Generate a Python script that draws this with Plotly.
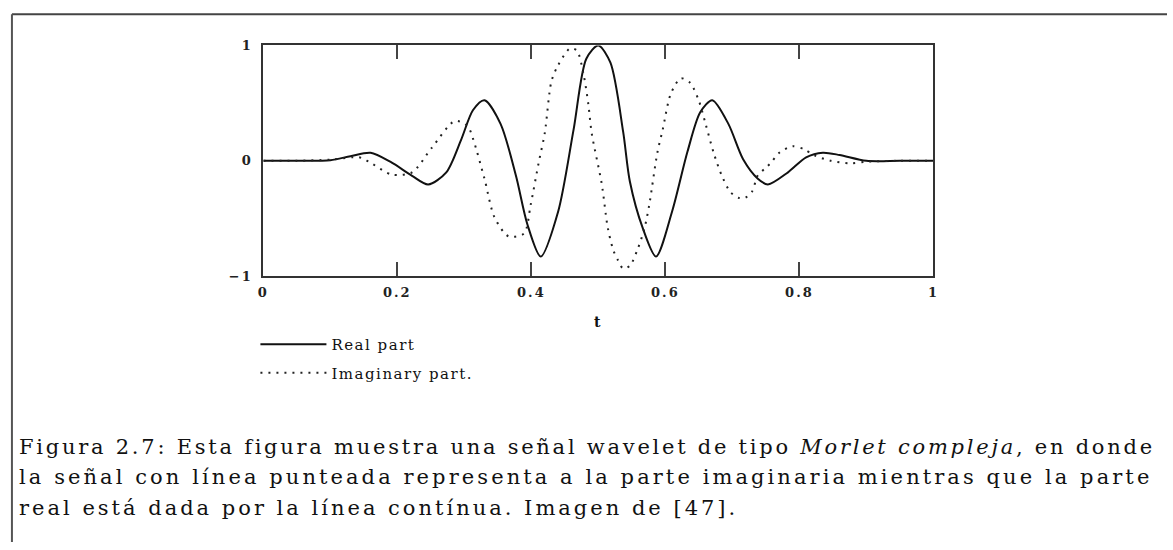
import plotly.graph_objects as go

# ---- data ----
t_real = [0.0, 0.05, 0.10, 0.13, 0.16, 0.19, 0.222, 0.246, 0.273, 0.295, 0.313, 0.33,
          0.354, 0.377, 0.394, 0.414, 0.44, 0.463, 0.482, 0.50, 0.518, 0.537, 0.547,
          0.566, 0.586, 0.61, 0.633, 0.652, 0.67, 0.694, 0.716, 0.738, 0.753, 0.783,
          0.81, 0.835, 0.86, 0.90, 0.95, 1.0]
y_real = [0.0, 0.0, 0.005, 0.04, 0.07, -0.01, -0.13, -0.205, -0.10, 0.18, 0.44, 0.525,
          0.32, -0.13, -0.55, -0.83, -0.44, 0.27, 0.885, 1.0, 0.85, 0.25, -0.18,
          -0.58, -0.83, -0.44, 0.08, 0.42, 0.525, 0.32, 0.014, -0.155, -0.205, -0.10,
          0.03, 0.07, 0.05, 0.0, 0.0, 0.0]

t_imag = [0.0, 0.05, 0.10, 0.143, 0.158, 0.192, 0.222, 0.251, 0.286, 0.305, 0.313, 0.33,
          0.345, 0.366, 0.389, 0.399, 0.411, 0.42, 0.43, 0.44, 0.458, 0.468, 0.478,
          0.485, 0.49, 0.505, 0.514, 0.522, 0.529, 0.537, 0.547, 0.559, 0.569, 0.576,
          0.588, 0.596, 0.608, 0.623, 0.637, 0.65, 0.66, 0.672, 0.684, 0.697, 0.709,
          0.719, 0.729, 0.738, 0.748, 0.758, 0.77, 0.79, 0.807, 0.822, 0.847, 0.876,
          0.90, 0.95, 1.0]
y_imag = [0.0, 0.0, 0.01, 0.03, -0.01, -0.12, -0.10, 0.11, 0.345, 0.30, 0.19, -0.155,
          -0.49, -0.655, -0.63, -0.38, -0.014, 0.24, 0.69, 0.83, 0.975, 0.955, 0.745,
          0.49, 0.24, -0.20, -0.58, -0.77, -0.86, -0.935, -0.91, -0.76, -0.58, -0.38,
          0.07, 0.27, 0.58, 0.715, 0.675, 0.52, 0.32, 0.07, -0.126, -0.27, -0.32,
          -0.32, -0.27, -0.126, -0.07, -0.014, 0.07, 0.126, 0.10, 0.048, 0.0, -0.022,
          -0.008, 0.0, 0.0]

x_ticks = [0, 0.2, 0.4, 0.6, 0.8, 1]
x_tick_labels = ["0", "0.2", "0.4", "0.6", "0.8", "1"]
y_ticks = [-1, 0, 1]
y_tick_labels = ["\u22121", "0", "1"]

caption_lines = [
    "Figura 2.7: Esta figura muestra una señal wavelet de tipo <i>Morlet compleja</i>, en donde",
    "la señal con línea punteada representa a la parte imaginaria mientras que la parte",
    "real está dada por la línea contínua. Imagen de [47].",
]
caption_spacing = [  # (letter-spacing px, word-spacing px) per line
    (2.75, 0.0),
    (3.08, 0.0),
    (3.0, 0.0),
]

W, H = 1173, 550
px = lambda v: v / W
py = lambda v: 1 - v / H


def spaced(s, ls, ws=0.0):
    return f'<span style="letter-spacing:{ls}px;word-spacing:{ws}px">{s}</span>'


fig = go.Figure()
fig.add_trace(go.Scatter(x=t_real, y=y_real, mode="lines", name=spaced("Real part", 1.5),
                         legendgroup="r",
                         line=dict(color="#111", width=2, shape="spline", smoothing=0.8)))
fig.add_trace(go.Scatter(x=t_imag, y=y_imag, mode="lines",
                         name=spaced("Imaginary part.", 1.5), legendgroup="i",
                         line=dict(color="#222", width=2, dash="2px,6px", shape="spline",
                                   smoothing=0.8)))

tickfont = dict(family="DejaVu Serif", size=13, color="#222", weight="bold")
fig.update_layout(
    width=W, height=H, margin=dict(l=0, r=0, t=0, b=0),
    paper_bgcolor="white", plot_bgcolor="white",
    xaxis=dict(domain=[px(260), px(937)], range=[0, 1], tickvals=x_ticks,
               ticktext=[spaced(s, 2) for s in x_tick_labels], ticks="inside",
               ticklen=14, tickwidth=2,
               tickcolor="#444", showline=True, linecolor="#333", linewidth=2,
               mirror="ticks", showgrid=False, zeroline=False, tickfont=tickfont,
               ticklabelstandoff=3),
    yaxis=dict(domain=[py(276.7), py(39.5)], range=[-1, 1], tickvals=y_ticks,
               ticktext=[spaced(s, 2) for s in y_tick_labels], ticks="",
               showline=True, linecolor="#333",
               linewidth=2, mirror=True, showgrid=False, zeroline=False,
               tickfont=tickfont, ticklabelstandoff=6),
    showlegend=True,
    legend=dict(x=px(252), y=py(330), xanchor="left", yanchor="top",
                font=dict(family="DejaVu Serif", size=15, color="#111"),
                bgcolor="rgba(0,0,0,0)", itemwidth=66, tracegroupgap=6),
)

fig.add_annotation(text="t", x=px(598), y=py(324), xref="paper", yref="paper",
                   showarrow=False, font=dict(family="DejaVu Serif", size=14,
                                              color="#111", weight="bold"))

for i, line in enumerate(caption_lines):
    ls, ws = caption_spacing[i]
    fig.add_annotation(text=spaced(line, ls, ws), x=px(11), y=py(452 + 31.5 * i),
                       xref="paper", yref="paper", xanchor="left", yanchor="middle",
                       showarrow=False,
                       font=dict(family="DejaVu Serif", size=21, color="#111"))

# outer figure frame
fig.add_shape(type="line", xref="paper", yref="paper", x0=px(6), x1=1, y0=py(7.5),
              y1=py(7.5), line=dict(color="#444", width=2))
fig.add_shape(type="line", xref="paper", yref="paper", x0=px(6), x1=px(6), y0=py(7.5),
              y1=0, line=dict(color="#555", width=2))

fig.write_html("out.html")
